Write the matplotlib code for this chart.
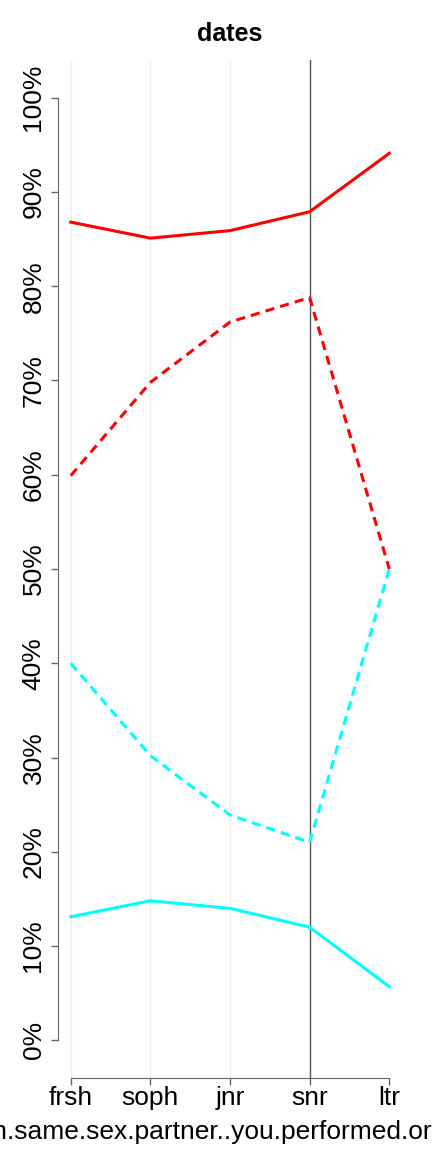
import matplotlib.pyplot as plt
import numpy as np

plt.rcParams["font.family"] = ["Liberation Sans", "DejaVu Sans"]

categories = ["frsh", "soph", "jnr", "snr", "ltr"]
red_solid = [86.8, 85.1, 85.9, 87.9, 94.1]
red_dashed = [59.9, 69.8, 76.2, 78.8, 50.0]
cyan_dashed = [40.0, 30.2, 23.9, 21.0, 50.0]
cyan_solid = [13.1, 14.8, 14.0, 12.0, 5.7]
y_ticks = [0, 10, 20, 30, 40, 50, 60, 70, 80, 90, 100]
x_label = "with.same.sex.partner..you.performed.oral.sex"

fig = plt.figure(figsize=(4.32, 11.52), dpi=100)
ax = fig.add_axes([58 / 432, 1 - 1078 / 1152, (402 - 58) / 432, (1078 - 60) / 1152])

x = np.arange(1, len(categories) + 1)
for xi in x[:3]:
    ax.axvline(xi, color="#F0EEDF", lw=1, zorder=0)
ax.axvline(x[3], color="#555555", lw=1, zorder=0)

ax.plot(x, red_solid, color="#FF0000", lw=2.2)
ax.plot(x, red_dashed, color="#FF0000", lw=2.2, dashes=(3, 2))
ax.plot(x, cyan_dashed, color="#00FFFF", lw=2.2, dashes=(3, 2))
ax.plot(x, cyan_solid, color="#00FFFF", lw=2.2)

ax.set_xlim(0.84, 5.16)
ax.set_ylim(-4, 104)

for side in ["top", "right"]:
    ax.spines[side].set_visible(False)
ax.spines["left"].set_bounds(0, 100)
ax.spines["bottom"].set_bounds(1, 5)
ax.spines["left"].set_color("#666666")
ax.spines["bottom"].set_color("#666666")

ax.set_xticks(x)
ax.set_xticklabels(categories, fontsize=19)
ax.set_yticks(y_ticks)
ax.set_yticklabels([f"{v}%" for v in y_ticks], fontsize=19, rotation=90, va="center")
ax.tick_params(axis="both", colors="#666666", labelcolor="black", length=5, width=1)
ax.tick_params(axis="y", pad=4)
ax.tick_params(axis="x", pad=1)

ax.set_title("dates", fontsize=18, fontweight="bold", pad=14)
ax.set_xlabel(x_label, fontsize=19, labelpad=7)

fig.savefig("out.png", dpi=100)
